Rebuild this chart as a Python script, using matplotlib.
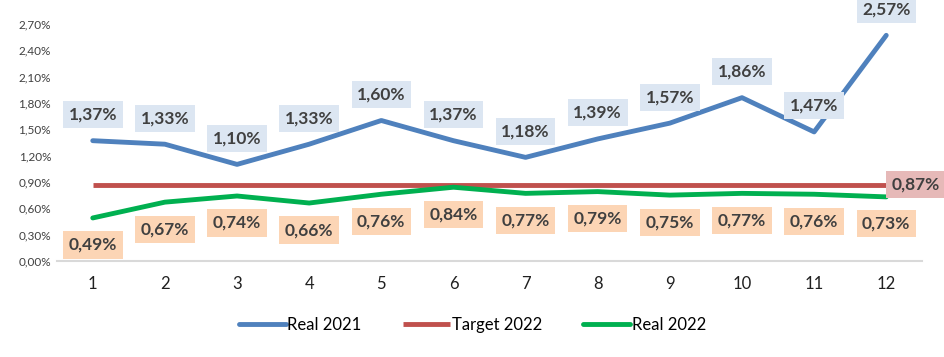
import matplotlib.pyplot as plt
from matplotlib.ticker import FuncFormatter

# dados
meses = list(range(1, 13))
real_2021 = [1.37, 1.33, 1.10, 1.33, 1.60, 1.37, 1.18, 1.39, 1.57, 1.86, 1.47, 2.57]
target_2022 = [0.87] * 12
real_2022 = [0.49, 0.67, 0.74, 0.66, 0.76, 0.84, 0.77, 0.79, 0.75, 0.77, 0.76, 0.73]

azul = "#4F81BD"
vermelho = "#C0504D"
verde = "#00B050"
texto = "#404040"


def pct(v):
    return ("%.2f%%" % v).replace(".", ",")


fig = plt.figure(figsize=(9.45, 3.57), dpi=100)
ax = fig.add_axes([0.060, 0.269, 0.916, 0.664])

ax.plot(meses, real_2021, color=azul, lw=3.5, label="Real 2021", solid_capstyle="round")
ax.plot(meses, target_2022, color=vermelho, lw=3.5, label="Target 2022", solid_capstyle="butt")
ax.plot(meses, real_2022, color=verde, lw=3.5, label="Real 2022", solid_capstyle="round")

# rotulos dos dados
estilo = dict(fontsize=12.5, fontweight="bold", color=texto, family=["Lato", "DejaVu Sans"],
              ha="center", va="center", textcoords="offset pixels", annotation_clip=False)
for x, v in zip(meses, real_2021):
    ax.annotate(pct(v), (x, v), xytext=(0, 26),
                bbox=dict(boxstyle="square,pad=0.32", fc="#DCE6F2", ec="none"), **estilo)
for x, v in zip(meses, real_2022):
    ax.annotate(pct(v), (x, v), xytext=(0, -27),
                bbox=dict(boxstyle="square,pad=0.32", fc="#FCD5B5", ec="none"), **estilo)
ax.annotate(pct(target_2022[-1]), (meses[-1], target_2022[-1]), xytext=(29, 0),
            bbox=dict(boxstyle="square,pad=0.32", fc="#E6B9B8", ec="none"), **estilo)

ax.set_xlim(0.5, 12.5)
ax.set_ylim(0, 2.7)
ax.set_yticks([i * 0.3 for i in range(10)])
ax.yaxis.set_major_formatter(FuncFormatter(lambda v, p: pct(v)))
ax.set_xticks(meses)
ax.tick_params(axis="y", length=0, labelsize=8.5, labelcolor=texto, pad=4)
ax.tick_params(axis="x", length=0, labelsize=12, labelcolor="#202020", pad=11)
for lab in ax.get_xticklabels() + ax.get_yticklabels():
    lab.set_family(["Lato", "DejaVu Sans"])

for s in ["top", "right", "left"]:
    ax.spines[s].set_visible(False)
ax.spines["bottom"].set_color("#D9D9D9")
ax.spines["bottom"].set_linewidth(1.5)

leg = fig.legend(loc="center", bbox_to_anchor=(0.5, 0.09), ncol=3, frameon=False,
                 handlelength=2.8, handletextpad=0.1, columnspacing=2.5,
                 prop={"family": ["Lato", "DejaVu Sans"], "size": 12})

fig.savefig("out.png", dpi=100)
